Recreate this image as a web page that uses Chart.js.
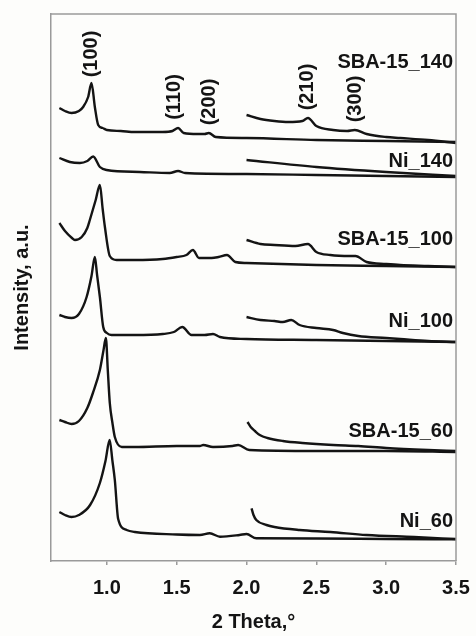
<!DOCTYPE html>
<html>
<head>
<meta charset="utf-8">
<script src="https://cdn.jsdelivr.net/npm/chart.js@4.4.1/dist/chart.umd.min.js"></script>
<style>
  html, body { margin: 0; padding: 0; background: #fdfdfb; }
  #wrap { width: 476px; height: 636px; }
</style>
</head>
<body>
<div id="wrap"><canvas id="c" width="476" height="636"></canvas></div>
<script>
// ---- Data (2 Theta in degrees, intensity in arbitrary units incl. stacking offset) ----
const xTickValues = [1.0, 1.5, 2.0, 2.5, 3.0, 3.5];
const seriesNames = ['SBA-15_140', 'Ni_140', 'SBA-15_100', 'Ni_100', 'SBA-15_60', 'Ni_60'];
const hklLabels = ['(100)', '(110)', '(200)', '(210)', '(300)'];
const hklTheta = [0.88, 1.48, 1.73, 2.43, 2.775];

// SBA-15_140
const sba140X = [0.66, 0.70, 0.747, 0.80, 0.83, 0.866, 0.89, 0.914, 0.938, 0.97, 1.0, 1.1, 1.2, 1.4, 1.47, 1.51, 1.55, 1.65, 1.70, 1.73, 1.78, 2.0, 2.5, 3.0, 3.5];
const sba140Y = [453, 450, 448, 450, 454, 464, 478, 454, 436, 433, 431, 430, 429, 429, 430, 433, 428, 427, 427, 428, 424, 423, 421, 420, 419];
const sba140MagX = [2.0, 2.1, 2.2, 2.3, 2.4, 2.44, 2.5, 2.62, 2.72, 2.775, 2.86, 3.0, 3.1, 3.3, 3.5];
const sba140MagY = [446, 442, 440, 439, 440, 443, 435, 431, 430, 431, 427, 424, 423, 421, 418];

// Ni_140
const ni140X = [0.66, 0.735, 0.807, 0.86, 0.902, 0.95, 0.998, 1.236, 1.45, 1.51, 1.56, 2.0, 2.5, 3.0, 3.5];
const ni140Y = [403, 399, 398, 400, 404.5, 394, 391, 389, 388, 390, 388, 387, 386, 385, 384];
const ni140MagX = [2.0, 2.5, 3.0, 3.5];
const ni140MagY = [401, 394, 389, 385];

// SBA-15_100
const sba100X = [0.66, 0.70, 0.75, 0.771, 0.82, 0.86, 0.878, 0.92, 0.95, 0.97, 0.986, 1.021, 1.07, 1.2, 1.4, 1.5, 1.57, 1.616, 1.66, 1.75, 1.80, 1.86, 1.92, 2.0, 2.5, 3.0, 3.5];
const sba100Y = [338, 330, 323, 321, 324, 333, 341, 361, 376, 352, 334, 305, 301, 301, 302, 304, 306, 311, 303, 303, 304, 306, 299, 298, 296, 295, 294];
const sba100MagX = [2.0, 2.1, 2.2, 2.35, 2.44, 2.5, 2.6, 2.74, 2.78, 2.86, 3.0, 3.1, 3.3, 3.5];
const sba100MagY = [321, 317, 316, 315, 317, 309, 306, 305, 305, 299, 297, 296, 295, 294];

// Ni_100
const ni100X = [0.66, 0.70, 0.747, 0.80, 0.855, 0.89, 0.914, 0.93, 0.95, 0.974, 1.0, 1.033, 1.2, 1.4, 1.48, 1.54, 1.606, 1.7, 1.76, 1.81, 2.0, 2.5, 3.0, 3.5];
const ni100Y = [246, 244, 243, 247, 264, 285, 304, 286, 264, 234, 228, 226, 226, 227, 229, 234, 226, 226, 227, 224, 222, 221, 220, 219];
const ni100MagX = [2.0, 2.1, 2.2, 2.26, 2.32, 2.38, 2.5, 2.62, 2.69, 2.8, 3.0, 3.1, 3.3, 3.5];
const ni100MagY = [244, 241, 240, 239, 241, 236, 233, 231, 228, 225, 223, 222, 220, 219];

// SBA-15_60
const sba60X = [0.66, 0.70, 0.747, 0.80, 0.86, 0.90, 0.95, 0.975, 0.993, 1.007, 1.021, 1.04, 1.057, 1.107, 1.2, 1.5, 1.666, 1.69, 1.76, 1.9, 1.94, 2.02, 2.5, 3.0, 3.5];
const sba60Y = [141, 139, 137, 140, 153, 168, 191, 210, 223, 190, 158, 138, 124, 114, 114, 115, 115, 116, 114, 115, 116, 111, 110, 110, 109];
const sba60MagX = [2.007, 2.03, 2.06, 2.095, 2.15, 2.26, 2.4, 2.62, 2.8, 3.0, 3.3, 3.5];
const sba60MagY = [139, 134, 130, 126, 123, 120, 118, 116, 115, 113, 111, 110];

// Ni_60
const ni60X = [0.66, 0.70, 0.747, 0.80, 0.88, 0.95, 0.99, 1.02, 1.04, 1.057, 1.081, 1.141, 1.2, 1.5, 1.666, 1.737, 1.81, 1.95, 2.0, 2.07, 2.5, 3.0, 3.5];
const ni60Y = [49, 46, 44, 46, 56, 78, 100, 121, 100, 81, 42, 31, 29, 26.5, 26, 27.7, 24.3, 26, 27, 22.7, 22.5, 22, 21.7];
const ni60MagX = [2.036, 2.05, 2.07, 2.143, 2.2, 2.38, 2.6, 2.86, 3.2, 3.5];
const ni60MagY = [52.7, 46, 41, 36, 34, 31, 29, 26, 24, 22];

// ---- Build datasets ----
function pts(xs, ys) { return xs.map((x, i) => ({ x: x, y: ys[i] })); }
const curves = [
  [sba140X, sba140Y], [sba140MagX, sba140MagY],
  [ni140X, ni140Y], [ni140MagX, ni140MagY],
  [sba100X, sba100Y], [sba100MagX, sba100MagY],
  [ni100X, ni100Y], [ni100MagX, ni100MagY],
  [sba60X, sba60Y], [sba60MagX, sba60MagY],
  [ni60X, ni60Y], [ni60MagX, ni60MagY]
];
const datasets = curves.map((c, i) => ({
  label: seriesNames[Math.floor(i / 2)] + (i % 2 ? ' (magnified)' : ''),
  data: pts(c[0], c[1]),
  borderColor: '#141414',
  borderWidth: 2.4,
  pointRadius: 0,
  fill: false,
  cubicInterpolationMode: 'monotone',
  tension: 0.4
}));

const FONT = 'Liberation Sans, Arial, Helvetica, sans-serif';

const bgPlugin = {
  id: 'bg',
  beforeDraw(chart) {
    const ctx = chart.ctx;
    ctx.save();
    ctx.fillStyle = '#fdfdfb';
    ctx.fillRect(0, 0, chart.width, chart.height);
    ctx.restore();
  }
};

const framePlugin = {
  id: 'frame',
  afterDraw(chart) {
    const { ctx, chartArea: a } = chart;
    ctx.save();
    ctx.strokeStyle = '#9a9a9a';
    ctx.lineWidth = 1.5;
    ctx.beginPath();
    ctx.moveTo(a.left, a.top);
    ctx.lineTo(a.right, a.top);
    ctx.lineTo(a.right, a.bottom);
    ctx.stroke();
    ctx.restore();
  }
};

const textPlugin = {
  id: 'texts',
  afterDatasetsDraw(chart, args, opts) {
    const { ctx, chartArea: a, scales: { x, y } } = chart;
    ctx.save();
    ctx.fillStyle = '#141414';
    ctx.font = 'bold 20px ' + FONT;
    ctx.textAlign = 'right';
    ctx.textBaseline = 'alphabetic';
    seriesNames.forEach((n, i) => {
      ctx.fillText(n, a.right - 3, y.getPixelForValue(opts.nameY[i]) + 7);
    });
    hklLabels.forEach((t, i) => {
      ctx.save();
      ctx.translate(x.getPixelForValue(hklTheta[i]), y.getPixelForValue(opts.hklY[i]));
      ctx.rotate(-Math.PI / 2);
      ctx.textAlign = 'center';
      ctx.textBaseline = 'middle';
      ctx.fillText(t, 0, 1);
      ctx.restore();
    });
    ctx.restore();
  }
};

new Chart(document.getElementById('c'), {
  type: 'line',
  data: { datasets: datasets },
  plugins: [bgPlugin, framePlugin, textPlugin],
  options: {
    responsive: false,
    animation: false,
    events: [],
    layout: { padding: { left: 0, top: 14, right: 20, bottom: 5 } },
    plugins: {
      legend: { display: false },
      tooltip: { enabled: false },
      texts: {
        nameY: [500, 401, 323, 241, 131, 41.5],
        hklY: [507, 464, 459, 474, 462]
      }
    },
    scales: {
      x: {
        type: 'linear',
        min: 0.6,
        max: 3.5,
        afterBuildTicks: (scale) => { scale.ticks = xTickValues.map(v => ({ value: v })); },
        afterFit: (scale) => { scale.height = 70; scale.paddingLeft = 0; scale.paddingRight = 0; },
        ticks: {
          autoSkip: false,
          maxRotation: 0,
          padding: 11,
          color: '#141414',
          font: { family: FONT, size: 20, weight: 'bold' },
          callback: (v) => Number(v).toFixed(1)
        },
        grid: { display: true, drawOnChartArea: false, drawTicks: true, tickLength: 4, color: '#9a9a9a', lineWidth: 1.5 },
        border: { display: true, color: '#9a9a9a', width: 1.5 },
        title: {
          display: true,
          text: '2 Theta,°',
          color: '#141414',
          font: { family: FONT, size: 20, weight: 'bold' },
          padding: { top: 0, bottom: -3 }
        }
      },
      y: {
        type: 'linear',
        min: 0,
        max: 547,
        afterFit: (scale) => { scale.width = 51; },
        ticks: { display: false },
        grid: { display: false, drawTicks: false },
        border: { display: true, color: '#9a9a9a', width: 1.5 },
        title: {
          display: true,
          text: 'Intensity, a.u.',
          color: '#141414',
          font: { family: FONT, size: 20, weight: 'bold' },
          padding: { top: 10, bottom: 17 }
        }
      }
    }
  }
});
</script>
</body>
</html>
